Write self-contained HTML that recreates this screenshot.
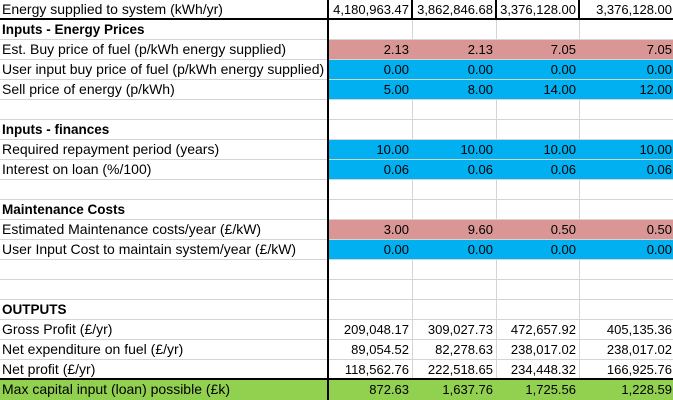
<!DOCTYPE html>
<html><head><meta charset="utf-8"><style>
body{margin:0;width:673px;height:400px;overflow:hidden;background:#fff;font-family:"Liberation Sans",Arial,sans-serif;font-size:13px;color:#000;position:relative}
.r{position:absolute;left:0;width:673px;height:20px;border-bottom:1px solid #d4d4d4;box-sizing:border-box}
.l{position:absolute;left:2px;top:1px;white-space:nowrap;font-size:14px}
.b{font-weight:bold;font-size:13.5px;top:2px}
.v{position:absolute;top:2px;text-align:right;white-space:nowrap}
.c{position:absolute;top:0;height:19px}
.vl{position:absolute;top:20px;width:1px;height:360px;background:#d4d4d4}
</style></head><body>
<div id="g"></div>
<script>
const rows=[
["Energy supplied to system (kWh/yr)",0,["4,180,963.47","3,862,846.68","3,376,128.00","3,376,128.00"],null],
["Inputs - Energy Prices",1,null,null],
["Est. Buy price of fuel (p/kWh energy supplied)",0,["2.13","2.13","7.05","7.05"],"#da9694"],
["User input buy price of fuel (p/kWh energy supplied)",0,["0.00","0.00","0.00","0.00"],"#00b0f0"],
["Sell price of energy (p/kWh)",0,["5.00","8.00","14.00","12.00"],"#00b0f0"],
["",0,null,null],
["Inputs - finances",1,null,null],
["Required repayment period (years)",0,["10.00","10.00","10.00","10.00"],"#00b0f0"],
["Interest on loan (%/100)",0,["0.06","0.06","0.06","0.06"],"#00b0f0"],
["",0,null,null],
["Maintenance Costs",1,null,null],
["Estimated Maintenance costs/year (£/kW)",0,["3.00","9.60","0.50","0.50"],"#da9694"],
["User Input Cost to maintain system/year (£/kW)",0,["0.00","0.00","0.00","0.00"],"#00b0f0"],
["",0,null,null],["",0,null,null],
["OUTPUTS",1,null,null],
["Gross Profit (£/yr)",0,["209,048.17","309,027.73","472,657.92","405,135.36"],null],
["Net expenditure on fuel (£/yr)",0,["89,054.52","82,278.63","238,017.02","238,017.02"],null],
["Net profit (£/yr)",0,["118,562.76","222,518.65","234,448.32","166,925.76"],null],
["Max capital input (loan) possible (£k)",0,["872.63","1,637.76","1,725.56","1,228.59"],"#92d050"]
];
const cols=[[328,412],[412,496],[496,579],[579,673]];
let h='';
[412,496,579].forEach(x=>h+=`<div class="vl" style="left:${x}px"></div>`);
rows.forEach((r,i)=>{
 const full=i==19;
 h+=`<div class="r" style="top:${i*20}px;${full?'background:'+r[3]+';border-bottom:none':''}">`;
 if(r[3]&&!full)h+=`<div class="c" style="left:328px;width:345px;background:${r[3]}"></div>`;
 h+=`<div class="l${r[1]?' b':''}">${r[0]}</div>`;
 if(r[2])r[2].forEach((v,j)=>h+=`<div class="v" style="left:${cols[j][0]}px;width:${cols[j][1]-cols[j][0]-(j==3?1:3)}px">${v}</div>`);
 h+='</div>';
});
h+='<div style="position:absolute;left:0;top:18px;width:673px;height:2px;background:#000"></div>';
h+='<div style="position:absolute;left:0;top:378px;width:673px;height:2px;background:#000"></div>';
h+='<div style="position:absolute;left:327px;top:0;width:2px;height:400px;background:#000"></div>';
[412,496,579].forEach(x=>h+=`<div style="position:absolute;left:${x-1}px;top:0;width:2px;height:19px;background:#000"></div>`);
document.getElementById('g').outerHTML=h;
</script>
</body></html>
